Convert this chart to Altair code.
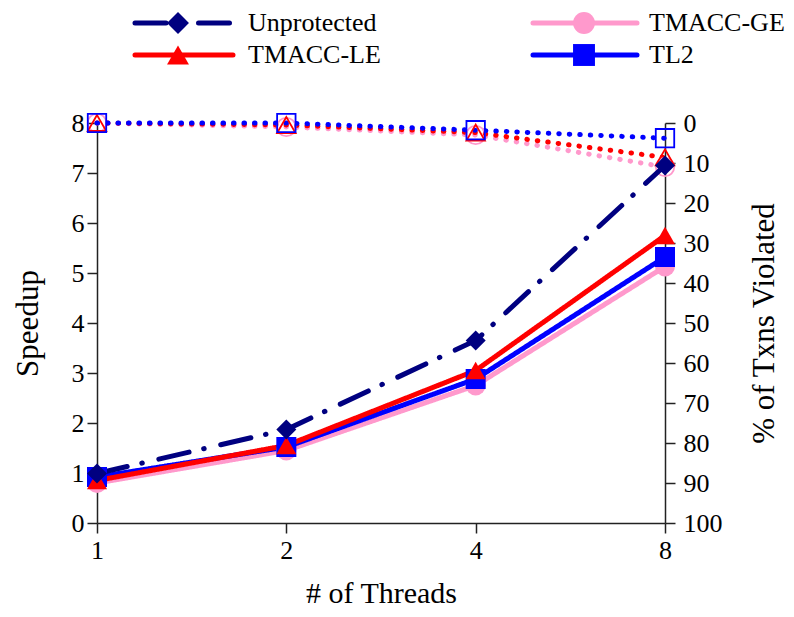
import altair as alt
import pandas as pd

threads = ["1", "2", "4", "8"]
series = ["Unprotected", "TMACC-GE", "TMACC-LE", "TL2"]
speedup = {
    "Unprotected": [0.99, 1.87, 3.65, 7.15],
    "TMACC-LE": [0.85, 1.55, 3.05, 5.75],
    "TL2": [0.92, 1.52, 2.88, 5.32],
    "TMACC-GE": [0.80, 1.45, 2.75, 5.13],
}
violated = {
    "TL2": [0.0, 0.0, 1.8, 3.8],
    "TMACC-LE": [0.0, 0.5, 2.4, 8.6],
    "TMACC-GE": [0.0, 1.0, 3.0, 11.0],
}
colors = {"Unprotected": "#000080", "TMACC-GE": "#ff99cc", "TMACC-LE": "#ff0000", "TL2": "#0000ff"}
shapes = {"Unprotected": "diamond", "TMACC-GE": "circle", "TMACC-LE": "triangle-up", "TL2": "square"}
dashes = {"Unprotected": [31, 15, 0.5, 17], "TMACC-GE": [1, 0], "TMACC-LE": [1, 0], "TL2": [1, 0]}

draw_order = ["TMACC-GE", "TL2", "TMACC-LE", "Unprotected"]
sp_rows = []
for s in draw_order:
    for i, t in enumerate(threads):
        sp_rows.append({"threads": t, "series": s, "speedup": speedup[s][i], "ord": draw_order.index(s)})
sp_df = pd.DataFrame(sp_rows)

v_order = ["TMACC-GE", "TMACC-LE", "TL2"]
v_rows = []
for s in v_order:
    for i, t in enumerate(threads):
        v_rows.append({"threads": t, "series": s, "pct": violated[s][i], "ord": v_order.index(s)})
v_df = pd.DataFrame(v_rows)

color_scale = alt.Scale(domain=series, range=[colors[s] for s in series])
shape_scale = alt.Scale(domain=series, range=[shapes[s] for s in series])
dash_scale = alt.Scale(domain=series, range=[dashes[s] for s in series])

FONT = "Liberation Serif"
x_enc = alt.X("threads:O", scale=alt.Scale(type="point", padding=0, domain=threads),
              axis=alt.Axis(title="# of Threads", labelAngle=0, labelPadding=4, titlePadding=15,
                            titleFontSize=30))

y_left = alt.Y("speedup:Q", scale=alt.Scale(domain=[0, 8]),
               axis=alt.Axis(title="Speedup", orient="left", values=list(range(9)), grid=False,
                             titlePadding=27, labelPadding=3))
y_right = alt.Y("pct:Q", scale=alt.Scale(domain=[0, 100], reverse=True),
                axis=alt.Axis(title="% of Txns Violated", orient="right", values=list(range(0, 101, 10)),
                              grid=False, titleAngle=270, titleBaseline="top", titlePadding=27,
                              labelPadding=8))

col = alt.Color("series:N", scale=color_scale, legend=None)

v_line = alt.Chart(v_df).mark_line(strokeWidth=5, strokeCap="round", strokeDash=[0.5, 10]).encode(
    x=x_enc, y=y_right, color=col, detail="series:N", order="ord:Q")
v_pts = alt.Chart(v_df).mark_point(filled=False, size=340, strokeWidth=1.8, opacity=1).encode(
    x=x_enc, y=y_right, color=col, shape=alt.Shape("series:N", scale=shape_scale, legend=None))
viol = alt.layer(v_line, v_pts)

s_line = alt.Chart(sp_df).mark_line(strokeWidth=5, strokeCap="round").encode(
    x=x_enc, y=y_left, color=col,
    strokeDash=alt.StrokeDash("series:N", scale=dash_scale, legend=None), order="threads:O")
s_pts = alt.Chart(sp_df).mark_point(filled=True, size=400, opacity=1).encode(
    x=x_enc, y=y_left, color=col, shape=alt.Shape("series:N", scale=shape_scale, legend=None))
speed = alt.layer(s_line, s_pts)

# legend (layout, pixels relative to plot area)
leg_rows = []
col_geom = {0: (38, 136, 81, 151), 1: (436, 540, 487, 552)}
for idx, s in enumerate(["Unprotected", "TMACC-LE", "TMACC-GE", "TL2"]):
    c = idx // 2
    r = idx % 2
    lx, lx2, mx, tx = col_geom[c]
    leg_rows.append({"series": s, "lx": lx, "lx2": lx2, "mx": mx, "tx": tx, "ly": -100 + r * 32})
leg_df = pd.DataFrame(leg_rows)
leg_dash = alt.Scale(domain=series, range=[[54, 15, 23, 0] if s == "Unprotected" else [1, 0] for s in series])
leg_line = alt.Chart(leg_df).mark_rule(strokeWidth=5, strokeCap="round").encode(
    x=alt.X("lx:Q", scale=None), x2="lx2:Q", y=alt.Y("ly:Q", scale=None), color=col,
    strokeDash=alt.StrokeDash("series:N", scale=leg_dash, legend=None))
leg_pts = alt.Chart(leg_df).mark_point(filled=True, size=480, opacity=1).encode(
    x=alt.X("mx:Q", scale=None), y=alt.Y("ly:Q", scale=None), color=col,
    shape=alt.Shape("series:N", scale=shape_scale, legend=None))
leg_txt = alt.Chart(leg_df).mark_text(align="left", baseline="middle", font=FONT, fontSize=26, color="black").encode(
    x=alt.X("tx:Q", scale=None), y=alt.Y("ly:Q", scale=None), text="series:N")

chart = alt.layer(viol, speed, leg_line, leg_pts, leg_txt).resolve_scale(y="independent").properties(
    width=568, height=400,
    autosize=alt.AutoSizeParams(type="none"),
    padding={"top": 115, "left": 89, "right": 121, "bottom": 86},
).configure_view(stroke=None).configure_axis(
    labelFont=FONT, titleFont=FONT, labelFontSize=26, titleFontSize=31, titleFontWeight="normal",
    labelColor="black", titleColor="black", domainColor="#222", tickColor="#222",
    domainWidth=1.5, tickWidth=1.5, tickSize=10
)

chart.save("out.html", embed_options={"renderer": "svg", "actions": False})
